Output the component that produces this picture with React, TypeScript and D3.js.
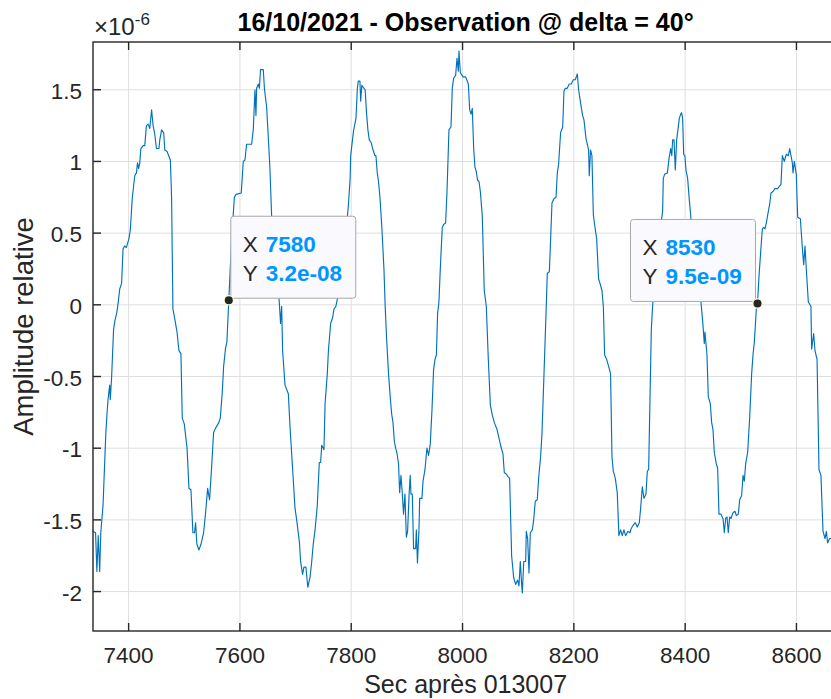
import React from "react";
import * as d3 from "d3";

// Time in seconds after 013007
const timeSec = [
  7336, 7340.6, 7343, 7345.4, 7348, 7350, 7354, 7359, 7361, 7363, 7366, 7367, 7369.4, 7373, 7375.4, 7379, 7381.4, 7384, 7387.4, 7390,
  7393, 7396, 7400.5, 7403, 7406.5, 7409, 7411, 7414, 7416, 7418, 7420, 7422, 7426, 7429, 7432, 7435, 7438, 7441.3, 7444, 7447,
  7450, 7454.5, 7456, 7459.2, 7463, 7465, 7469, 7471, 7475, 7477.2, 7479.6, 7483, 7487, 7490.4, 7494, 7496.4, 7500, 7505, 7508.4, 7512,
  7515.5, 7518.5, 7520.3, 7522.7, 7526.3, 7530, 7534.7, 7538.3, 7542, 7545.5, 7549, 7552.7, 7556.3, 7562.3, 7564.7, 7568.3, 7570.7, 7574.2, 7576.6, 7580,
  7581.4, 7585, 7590, 7593, 7602.4, 7606, 7609, 7612, 7621, 7624, 7627, 7628.8, 7630, 7633, 7635, 7637, 7642, 7644, 7648, 7651.5,
  7654, 7657, 7664, 7670.7, 7673, 7675, 7676.7, 7681, 7687, 7690, 7694.6, 7699, 7702, 7707, 7709, 7712.6, 7715, 7718.6, 7722, 7726,
  7729, 7732, 7735, 7739, 7742.6, 7745, 7747, 7751, 7753, 7757, 7759, 7763, 7766.5, 7769, 7772.5, 7775, 7783, 7793, 7795, 7798,
  7799, 7804, 7808.5, 7811, 7812.6, 7815.6, 7817, 7819, 7823, 7825, 7827.6, 7830, 7832.4, 7836, 7838.4, 7842.6, 7844.4, 7846.8, 7849, 7851.6,
  7855, 7858.8, 7861, 7863.6, 7867, 7870, 7872.6, 7875, 7877.4, 7879.8, 7882, 7885, 7887, 7889.4, 7891.8, 7894, 7896.5, 7899, 7901.3, 7904,
  7906, 7907.3, 7909.7, 7912, 7915.7, 7917, 7919, 7921.7, 7923, 7927, 7929, 7932.5, 7936, 7939, 7942, 7945, 7948, 7950.5, 7953, 7955.2,
  7957.6, 7960, 7963.6, 7966, 7969.6, 7972, 7975.6, 7979.2, 7981.6, 7984, 7987.6, 7990, 7992.4, 7993.6, 7996, 8000.8, 8005.6, 8010.4, 8012.8, 8015.2,
  8017.5, 8020, 8022.3, 8024.7, 8027, 8029.6, 8032, 8035.5, 8039, 8042.7, 8046.3, 8050, 8053.5, 8057, 8062, 8065.5, 8069, 8072.7, 8075, 8078.6,
  8082, 8084.6, 8088.2, 8091.8, 8095.4, 8099, 8101.4, 8103.8, 8106.2, 8107.4, 8110, 8113.4, 8114.6, 8117, 8119.4, 8121.8, 8125.4, 8127.8, 8130.7, 8134.3,
  8136.7, 8140.3, 8142.7, 8145, 8147.5, 8150, 8152.3, 8156, 8158.3, 8160.7, 8164.2, 8168, 8170.3, 8172.6, 8176.2, 8180, 8182.2, 8184.6, 8188, 8191.8,
  8195.4, 8199, 8202.6, 8206.2, 8208.6, 8212, 8215.8, 8218.2, 8221.8, 8224.1, 8226.5, 8227.7, 8230, 8232.5, 8235, 8237.3, 8241, 8244.5, 8247, 8250.5,
  8253, 8255.3, 8258.9, 8262.5, 8266, 8268.5, 8270.9, 8274.5, 8278, 8281, 8284, 8287, 8290, 8293, 8297.2, 8300.8, 8303, 8308, 8310.4, 8314,
  8317.6, 8320, 8323, 8326, 8329.6, 8332, 8334.4, 8336.8, 8339.2, 8341.5, 8344, 8350, 8357.7, 8359.5, 8360.7, 8363, 8368, 8371, 8374, 8376,
  8377.5, 8380, 8382.3, 8384.7, 8387, 8389.5, 8392, 8393.5, 8395.5, 8397.3, 8399.5, 8401.5, 8404.5, 8407.5, 8410.5, 8418, 8428.4, 8431.4, 8434.4, 8435.6,
  8439.2, 8441.6, 8445.2, 8447.6, 8450, 8452.4, 8456, 8458.4, 8460.8, 8464.4, 8468, 8470.4, 8472.8, 8475.2, 8477.5, 8480, 8482.4, 8486, 8489.5, 8492,
  8495.5, 8498, 8501.5, 8504, 8506.3, 8508.7, 8512.3, 8515.9, 8519.5, 8521.9, 8524.3, 8527.9, 8530, 8532.7, 8535, 8538.7, 8541, 8543.4, 8545.8, 8549.4,
  8551.8, 8554.2, 8557.8, 8561.4, 8566, 8572.2, 8574.6, 8578.2, 8581.8, 8585.4, 8587.8, 8590.2, 8592.6, 8593.8, 8596.2, 8599.7, 8602.2, 8607, 8610.5, 8613,
  8615.3, 8617.7, 8621.3, 8626, 8627.3, 8630.9, 8633.3, 8637, 8640.5, 8644, 8647.7, 8651.3, 8653.7, 8656, 8659.6, 8665,
];

// Relative amplitude, in units of 1e-6
const amplitude = [
  -1.58, -1.59, -1.86, -1.61, -1.86, -1.59, -1.40, -0.90, -0.77, -0.66, -0.56, -0.66, -0.51, -0.17, -0.11, -0.05, 0.02, 0.11, 0.15, 0.39,
  0.41, 0.40, 0.46, 0.52, 0.74, 0.83, 0.90, 0.92, 0.99, 0.95, 0.99, 1.09, 1.11, 1.11, 1.25, 1.26, 1.23, 1.36, 1.25, 1.19,
  1.09, 1.09, 1.15, 1.22, 1.20, 1.08, 1.07, 1.05, 1.01, 0.75, -0.03, -0.10, -0.19, -0.32, -0.34, -0.79, -0.83, -1.00, -1.28, -1.29,
  -1.59, -1.59, -1.52, -1.67, -1.71, -1.67, -1.59, -1.45, -1.28, -1.36, -1.14, -0.89, -0.86, -0.82, -0.79, -0.61, -0.43, -0.30, -0.26, 0.032,
  0.15, 0.45, 0.75, 0.77, 0.78, 1.00, 1.01, 1.12, 1.12, 1.22, 1.50, 1.32, 1.51, 1.54, 1.51, 1.64, 1.64, 1.51, 1.38, 1.13,
  0.94, 0.62, 0.30, 0.02, -0.13, -0.01, -0.32, -0.56, -0.62, -0.85, -1.14, -1.42, -1.50, -1.66, -1.79, -1.88, -1.83, -1.83, -1.97, -1.90,
  -1.79, -1.66, -1.57, -1.40, -1.10, -1.10, -0.98, -1.01, -0.69, -0.48, -0.32, -0.13, -0.09, -0.03, -0.01, 0.04, 0.32, 0.61, 0.70, 0.88,
  1.04, 1.21, 1.30, 1.51, 1.56, 1.56, 1.42, 1.53, 1.51, 1.50, 1.33, 1.22, 1.15, 1.13, 1.09, 1.04, 1.04, 0.92, 0.86, 0.75,
  0.54, 0.25, -0.01, -0.24, -0.48, -0.64, -0.76, -0.82, -0.95, -1.00, -1.03, -1.11, -1.31, -1.19, -1.32, -1.46, -1.32, -1.62, -1.58, -1.32,
  -1.19, -1.32, -1.32, -1.70, -1.70, -1.57, -1.80, -1.57, -1.35, -1.35, -1.23, -1.15, -1.00, -1.05, -0.97, -0.74, -0.45, -0.38, -0.35, -0.06,
  0.02, 0.25, 0.54, 0.56, 0.57, 0.78, 1.22, 1.24, 1.51, 1.58, 1.60, 1.72, 1.63, 1.77, 1.62, 1.59, 1.59, 1.54, 1.36, 1.33,
  1.37, 1.09, 0.96, 0.93, 0.87, 0.86, 0.79, 0.62, 0.10, -0.01, -0.38, -0.70, -0.77, -0.82, -0.87, -0.93, -0.99, -1.04, -1.17, -1.18,
  -1.20, -1.21, -1.75, -1.90, -1.95, -1.92, -1.96, -1.79, -1.95, -2.01, -1.79, -1.79, -1.58, -1.63, -1.87, -1.59, -1.57, -1.50, -1.37, -1.36,
  -1.21, -1.06, -0.90, -0.64, -0.35, -0.06, 0.22, 0.23, 0.46, 0.71, 0.74, 0.75, 0.92, 0.98, 1.20, 1.24, 1.49, 1.51, 1.51, 1.54,
  1.54, 1.57, 1.57, 1.61, 1.50, 1.41, 1.32, 1.29, 1.16, 1.12, 1.08, 0.90, 1.08, 1.04, 0.63, 0.56, 0.46, 0.18, 0.15, 0.10,
  -0.01, -0.35, -0.38, -0.43, -0.48, -1.06, -1.16, -1.21, -1.31, -1.61, -1.57, -1.61, -1.57, -1.61, -1.58, -1.59, -1.56, -1.53, -1.52, -1.55,
  -1.52, -1.42, -1.27, -1.35, -1.32, -1.16, -1.15, -0.66, -0.17, -0.01, 0.10, 0.35, 0.60, 0.65, 0.88, 0.91, 0.92, 1.02, 1.09, 1.04,
  1.15, 1.15, 0.94, 1.15, 1.22, 1.30, 1.33, 1.34, 1.30, 1.05, 1.04, 0.94, 0.88, 0.73, 0.60, 0.30, 0.02, -0.11, -0.27, -0.19,
  -0.35, -0.64, -0.69, -0.82, -0.87, -1.03, -1.11, -1.14, -1.46, -1.46, -1.49, -1.59, -1.49, -1.48, -1.59, -1.48, -1.49, -1.45, -1.44, -1.47,
  -1.46, -1.36, -1.33, -1.19, -1.23, -1.11, -1.03, -0.79, -0.48, -0.35, -0.26, -0.03, 0.0095, 0.20, 0.33, 0.53, 0.54, 0.53, 0.57, 0.65,
  0.70, 0.78, 0.79, 0.81, 0.81, 0.84, 1.04, 1.00, 1.05, 1.04, 1.09, 1.04, 0.99, 0.92, 1.00, 0.91, 0.61, 0.60, 0.40, 0.28,
  0.41, 0.25, 0.02, -0.01, -0.31, -0.20, -0.32, -0.38, -1.15, -1.19, -1.58, -1.63, -1.58, -1.66, -1.63, -1.63,
];

const xTicks = [7400, 7600, 7800, 8000, 8200, 8400, 8600];
const xTickLabels = ["7400", "7600", "7800", "8000", "8200", "8400", "8600"];
const yTicks = [-2, -1.5, -1, -0.5, 0, 0.5, 1, 1.5];
const yTickLabels = ["-2", "-1.5", "-1", "-0.5", "0", "0.5", "1", "1.5"];

const tipX = [7580, 8530];
const tipY = [0.032, 0.0095];
const tipXLabels = ["7580", "8530"];
const tipYLabels = ["3.2e-08", "9.5e-09"];
const tipSide = ["right", "left"];

const titleText = "16/10/2021 - Observation @ delta = 40°";
const xLabelText = "Sec après 013007";
const yLabelText = "Amplitude relative";

const W = 831;
const H = 699;
const L = 93;
const T = 42;
const R = 838.2;
const B = 631;
const FONT = "'Liberation Sans', Arial, Helvetica, sans-serif";
const AX = "#262626";

export default function App() {
  const x = d3.scaleLinear().domain([7336, 8675]).range([L, R]);
  const y = d3.scaleLinear().domain([-2.275, 1.833]).range([B, T]);
  const pts = timeSec.map((t, i) => [t, amplitude[i]] as [number, number]);
  const line = d3
    .line<[number, number]>()
    .x((d) => x(d[0]))
    .y((d) => y(d[1]));

  return (
    <div style={{ position: "absolute", left: 0, top: 0 }}>
      <svg width={W} height={H} style={{ display: "block", background: "#fff" }}>
        <defs>
          <clipPath id="plotclip">
            <rect x={L} y={T} width={R - L} height={B - T} />
          </clipPath>
        </defs>
        <rect x={L} y={T} width={R - L} height={B - T} fill="#fff" />
        {/* grid */}
        {xTicks.map((t) => (
          <line key={"gx" + t} x1={x(t)} x2={x(t)} y1={T} y2={B} stroke="#dfdfdf" strokeWidth={1} />
        ))}
        {yTicks.map((t) => (
          <line key={"gy" + t} x1={L} x2={R} y1={y(t)} y2={y(t)} stroke="#dfdfdf" strokeWidth={1} />
        ))}
        {/* data line */}
        <path d={line(pts) || ""} fill="none" stroke="#0072BD" strokeWidth={1.15} clipPath="url(#plotclip)" strokeLinejoin="round" />
        {/* axes box */}
        <rect x={L} y={T} width={R - L} height={B - T} fill="none" stroke={AX} strokeWidth={1.4} />
        {/* ticks */}
        {xTicks.map((t) => (
          <g key={"tx" + t}>
            <line x1={x(t)} x2={x(t)} y1={B} y2={B - 8} stroke={AX} strokeWidth={1.4} />
            <line x1={x(t)} x2={x(t)} y1={T} y2={T + 8} stroke={AX} strokeWidth={1.4} />
          </g>
        ))}
        {yTicks.map((t) => (
          <line key={"ty" + t} x1={L} x2={L + 8} y1={y(t)} y2={y(t)} stroke={AX} strokeWidth={1.4} />
        ))}
        {/* tick labels */}
        {xTicks.map((t, i) => (
          <text key={"lx" + t} x={x(t)} y={663} textAnchor="middle" fontFamily={FONT} fontSize={22.5} fill={AX}>
            {xTickLabels[i]}
          </text>
        ))}
        {yTicks.map((t, i) => (
          <text key={"ly" + t} x={L - 11} y={y(t) + 9} textAnchor="end" fontFamily={FONT} fontSize={22.5} fill={AX}>
            {yTickLabels[i]}
          </text>
        ))}
        {/* exponent */}
        <text x={94} y={35} fontFamily={FONT} fontSize={24} fill={AX}>
          <tspan>×10</tspan>
          <tspan fontSize={17} dy={-10}>-6</tspan>
        </text>
        {/* title */}
        <text x={(L + R) / 2} y={31} textAnchor="middle" fontFamily={FONT} fontSize={25} fontWeight="bold" fill="#000">
          {titleText}
        </text>
        {/* x label */}
        <text x={(L + R) / 2} y={693} textAnchor="middle" fontFamily={FONT} fontSize={25} fill={AX}>
          {xLabelText}
        </text>
        {/* y label */}
        <text
          transform={`translate(33, ${(T + B) / 2 - 10}) rotate(-90)`}
          textAnchor="middle"
          fontFamily={FONT}
          fontSize={27.5}
          fill={AX}
        >
          {yLabelText}
        </text>
        {/* datatips */}
        {tipX.map((tx, i) => {
          const px = x(tx);
          const py = y(tipY[i]);
          const bw = 125;
          const bh = 82;
          const bx = tipSide[i] === "right" ? px + 2 : px - 2 - bw;
          const by = tipSide[i] === "right" ? py - 2 - bh : py - 2 - bh;
          return (
            <g key={"tip" + i}>
              <rect x={bx} y={by} width={bw} height={bh} rx={3} ry={3} fill="#f9f9fe" stroke="#a8a8a8" strokeWidth={1} />
              <text x={bx + 12} y={by + 36} fontFamily={FONT} fontSize={22.5} fill={AX}>
                X
              </text>
              <text x={bx + 35} y={by + 36} fontFamily={FONT} fontSize={22.5} fontWeight="bold" fill="#0096FF">
                {tipXLabels[i]}
              </text>
              <text x={bx + 12} y={by + 65} fontFamily={FONT} fontSize={22.5} fill={AX}>
                Y
              </text>
              <text x={bx + 35} y={by + 65} fontFamily={FONT} fontSize={22.5} fontWeight="bold" fill="#0096FF">
                {tipYLabels[i]}
              </text>
              <circle cx={px} cy={py} r={5.2} fill="#fffbcc" />
              <circle cx={px} cy={py} r={4} fill="#262626" />
            </g>
          );
        })}
      </svg>
    </div>
  );
}
